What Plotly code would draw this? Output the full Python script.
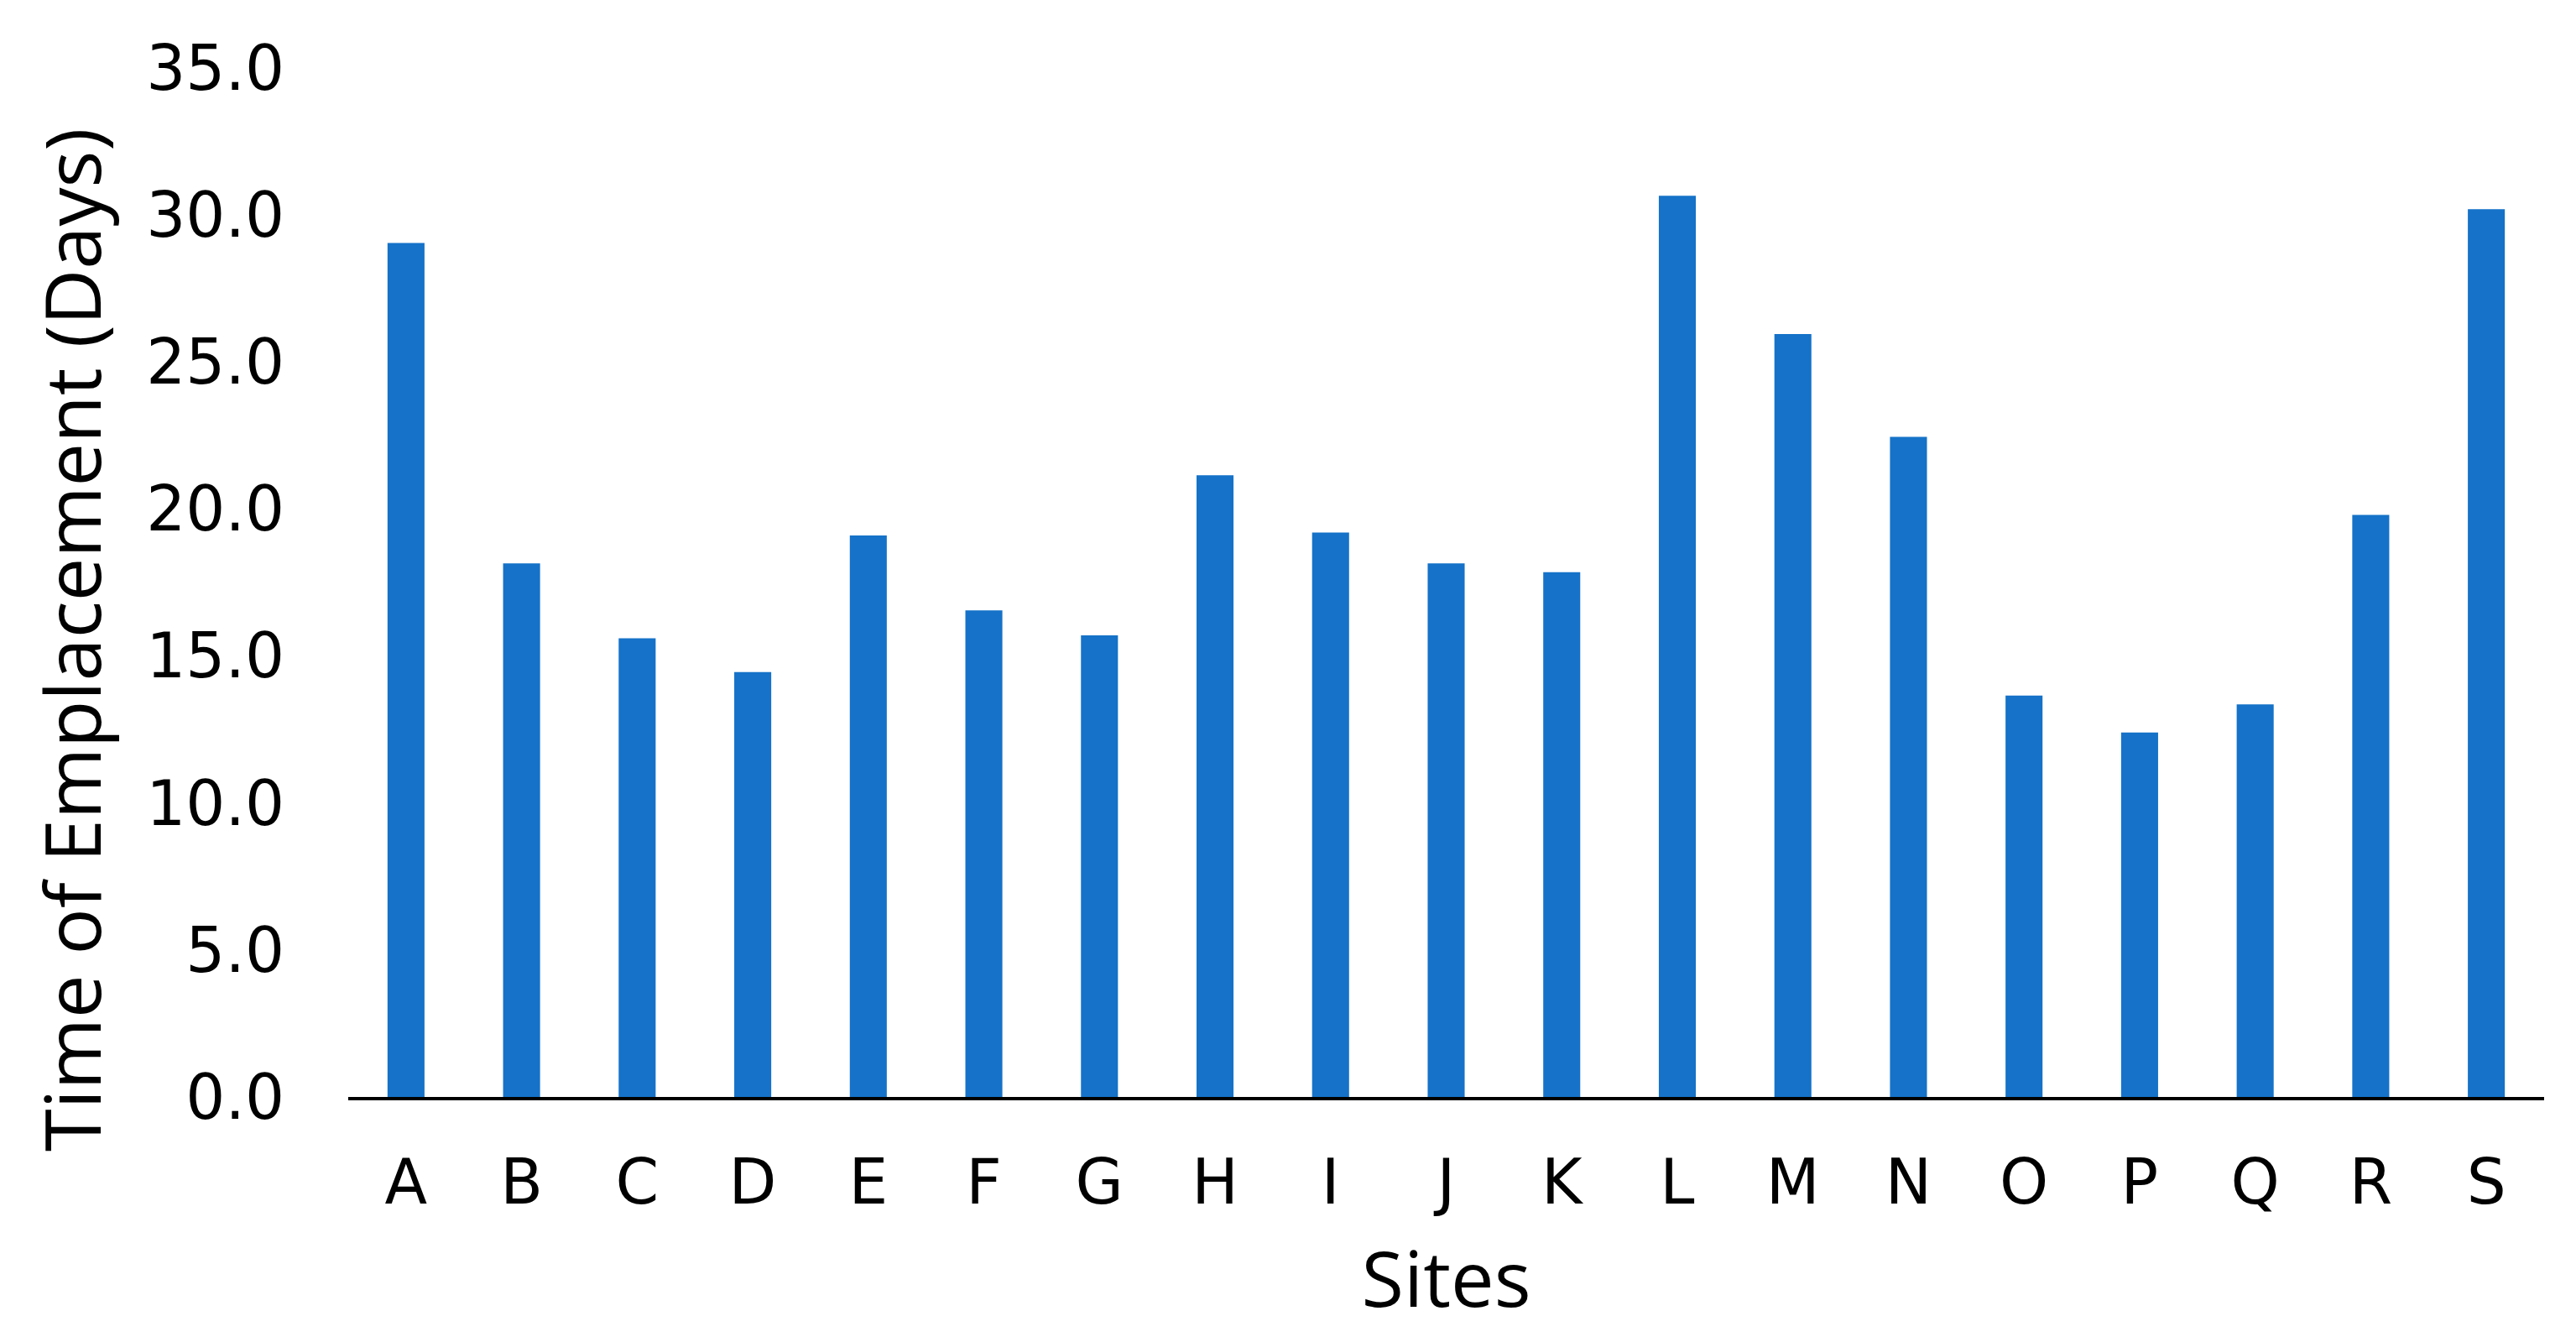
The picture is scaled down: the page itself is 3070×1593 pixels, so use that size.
import plotly.graph_objects as go

# Emplacement time per site
sites = ["A", "B", "C", "D", "E", "F", "G", "H", "I", "J",
         "K", "L", "M", "N", "O", "P", "Q", "R", "S"]
days = [29.05, 18.15, 15.6, 14.45, 19.1, 16.55, 15.7, 21.15, 19.2, 18.15,
        17.85, 30.65, 25.95, 22.45, 13.65, 12.4, 13.35, 19.8, 30.2]

y_ticks = [0, 5, 10, 15, 20, 25, 30, 35]

fig = go.Figure(go.Bar(
    x=sites,
    y=days,
    marker=dict(color="#1572C8", line=dict(width=0)),
    hovertemplate="Site %{x}: %{y:.1f} days<extra></extra>",
))

# the y title sits a little below the middle of the plot, so it is an annotation
fig.add_annotation(
    text="Time of Emplacement (Days)",
    textangle=-90,
    xref="paper", yref="paper",
    x=0, y=0.4445,
    xanchor="center", yanchor="middle",
    xshift=-331,
    showarrow=False,
    font=dict(family="Open Sans", size=92, color="black"),
)

# page body has an 8px margin, so the figure is sized to fit inside it
fig.update_layout(
    width=3054,
    height=1577,
    plot_bgcolor="white",
    paper_bgcolor="white",
    bargap=0.68,
    showlegend=False,
    margin=dict(l=407, r=30, t=73, b=278, autoexpand=False),
    xaxis=dict(
        title=dict(text="Sites", font=dict(family="Open Sans", size=92, color="black"),
                   standoff=44),
        tickfont=dict(family="DejaVu Sans", size=74, color="black"),
        showline=True, linecolor="black", linewidth=4,
        showgrid=False, ticks="", ticklabelstandoff=34,
        range=[-0.5, 18.5],
    ),
    yaxis=dict(
        tickfont=dict(family="DejaVu Sans", size=74, color="black"),
        tickvals=y_ticks, tickformat=".1f",
        range=[0, 35],
        showline=False, showgrid=False, zeroline=False,
        ticks="", ticklabelstandoff=75,
    ),
)

fig.write_html("out.html")
